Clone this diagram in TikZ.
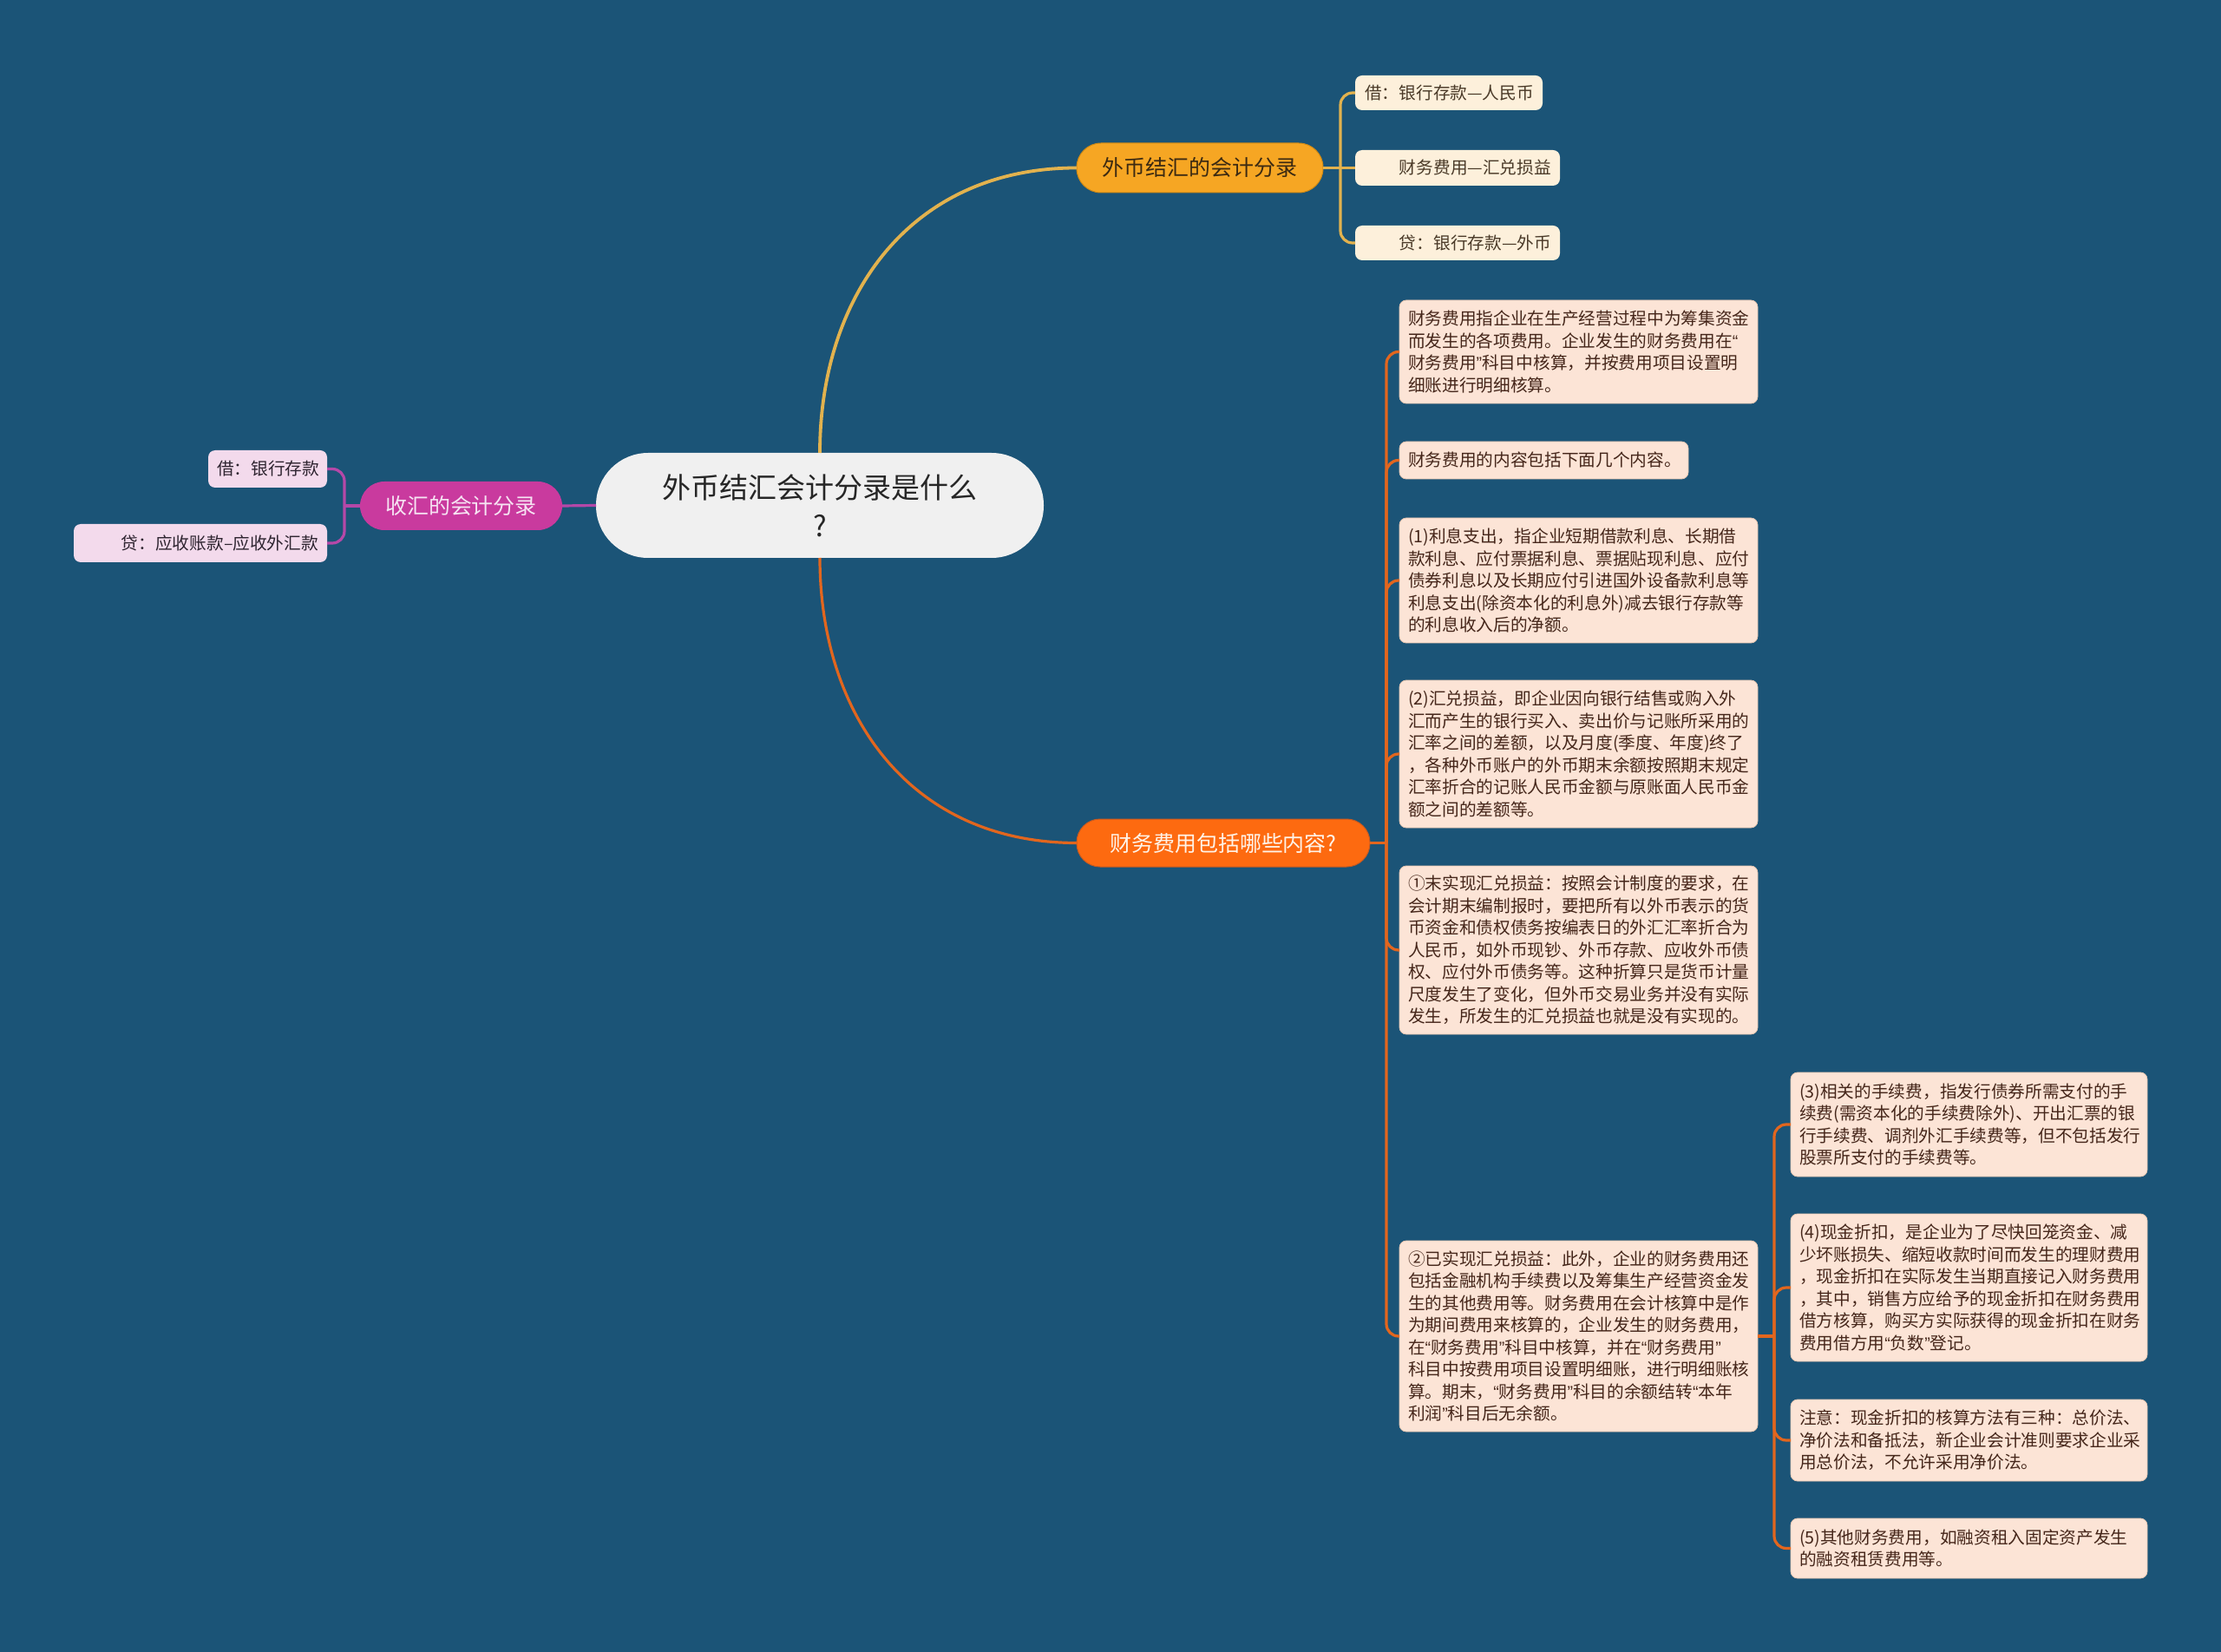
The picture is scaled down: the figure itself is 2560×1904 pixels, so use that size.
\documentclass[tikz,border=0pt]{standalone}
\usepackage{fontspec}
\newfontfamily\cjk{Noto Sans CJK SC}
\newfontfamily\qfont{Liberation Sans}
\newcommand{\qo}{{\qfont “}}
\newcommand{\qc}{{\qfont ”}}
\definecolor{bgc}{HTML}{1B5477}
\definecolor{rootfill}{HTML}{F0F0F0}
\definecolor{roottext}{HTML}{262626}
\definecolor{yfill}{HTML}{F6A623}
\definecolor{ydraw}{HTML}{D08A15}
\definecolor{ytext}{HTML}{3C2A12}
\definecolor{yconn}{HTML}{E2B24E}
\definecolor{cfill}{HTML}{FDF0DB}
\definecolor{ctext}{HTML}{4A3A28}
\definecolor{ofill}{HTML}{FD6A10}
\definecolor{odraw}{HTML}{C85A20}
\definecolor{otext}{HTML}{FFF3E8}
\definecolor{oconn}{HTML}{E2661E}
\definecolor{pfill}{HTML}{FCE4D6}
\definecolor{pdraw}{HTML}{E6C6B2}
\definecolor{ptext}{HTML}{45261A}
\definecolor{mfill}{HTML}{C93A9E}
\definecolor{mtext}{HTML}{F6E3F2}
\definecolor{mconn}{HTML}{B548A8}
\definecolor{kfill}{HTML}{F3DAEC}
\definecolor{ktext}{HTML}{2E2430}
\begin{document}
\begin{tikzpicture}[x=0.1mm,y=-0.1mm,
  every node/.style={inner sep=0pt, outer sep=0pt},
  conn/.style={line width=0.32mm, rounded corners=1.4mm},
  rootbox/.style={fill=rootfill, rounded corners=6mm, text=roottext, align=center,
    font=\cjk\fontsize{9.4}{12.5}\selectfont, minimum width=51.6mm, minimum height=12.1mm},
  mainY/.style={fill=yfill, draw=ydraw, line width=0.1mm, rounded corners=2.8mm, text=ytext,
    font=\cjk\fontsize{7.1}{9}\selectfont, minimum width=28.4mm, minimum height=5.7mm},
  mainO/.style={fill=ofill, draw=odraw, line width=0.1mm, rounded corners=2.7mm, text=otext,
    font=\cjk\fontsize{7.1}{9}\selectfont, minimum width=33.8mm, minimum height=5.5mm},
  mainM/.style={fill=mfill, rounded corners=2.8mm, text=mtext,
    font=\cjk\fontsize{7.1}{9}\selectfont, minimum width=23.3mm, minimum height=5.6mm},
  leafC/.style={fill=cfill, rounded corners=0.8mm, text=ctext, align=right, inner xsep=1mm,
    font=\cjk\fontsize{5.6}{7.26}\selectfont},
  leafK/.style={fill=kfill, rounded corners=0.8mm, text=ktext, align=right, inner xsep=1mm,
    font=\cjk\fontsize{5.6}{7.26}\selectfont},
  pbox/.style={fill=pfill, draw=pdraw, line width=0.08mm, rounded corners=0.8mm, text=ptext,
    align=left, inner xsep=1mm, font=\cjk\fontsize{5.6}{7.26}\selectfont},
]
\fill[bgc] (0,0) rectangle (2560,1904);
\useasboundingbox (0,0) rectangle (2560,1904);

\coordinate (tY) at (1545,193.5);
\coordinate (tO) at (1598,971.5);
\coordinate (tR) at (2045,1540);
\coordinate (tM) at (397,583);

% nodes
\node[rootbox] (root) at (945,582.5) {外币结汇会计分录是什么\\?};

\node[mainY] (fx) at (1383,193.5) {外币结汇的会计分录};
\node[leafC, text width=19.6mm, minimum height=4mm] (y1) at (1670,107) {借：银行存款—人民币};
\node[leafC, text width=21.6mm, minimum height=4.1mm] (y2) at (1680,193.5) {财务费用—汇兑损益};
\node[leafC, text width=21.6mm, minimum height=4mm] (y3) at (1680,280) {贷：银行存款—外币};

\node[mainO] (cw) at (1410,971.5) {财务费用包括哪些内容?};

\node[pbox, text width=39.3mm, minimum height=11.9mm] (b1) at (1819.5,405.5)
{财务费用指企业在生产经营过程中为筹集资金\\而发生的各项费用。企业发生的财务费用在\qo\\财务费用\qc 科目中核算，并按费用项目设置明\\细账进行明细核算。};
\node[pbox, text width=31.3mm, minimum height=4.3mm] (b2) at (1779.5,530.5)
{财务费用的内容包括下面几个内容。};
\node[pbox, text width=39.3mm, minimum height=14.4mm] (b3) at (1819.5,669)
{(1)利息支出，指企业短期借款利息、长期借\\款利息、应付票据利息、票据贴现利息、应付\\债券利息以及长期应付引进国外设备款利息等\\利息支出(除资本化的利息外)减去银行存款等\\的利息收入后的净额。};
\node[pbox, text width=39.3mm, minimum height=17mm] (b4) at (1819.5,869)
{(2)汇兑损益，即企业因向银行结售或购入外\\汇而产生的银行买入、卖出价与记账所采用的\\汇率之间的差额，以及月度(季度、年度)终了\\，各种外币账户的外币期末余额按照期末规定\\汇率折合的记账人民币金额与原账面人民币金\\额之间的差额等。};
\node[pbox, text width=39.3mm, minimum height=19.4mm] (b5) at (1819.5,1095)
{①末实现汇兑损益：按照会计制度的要求，在\\会计期末编制报时，要把所有以外币表示的货\\币资金和债权债务按编表日的外汇汇率折合为\\人民币，如外币现钞、外币存款、应收外币债\\权、应付外币债务等。这种折算只是货币计量\\尺度发生了变化，但外币交易业务并没有实际\\发生，所发生的汇兑损益也就是没有实现的。};
\node[pbox, text width=39.3mm, minimum height=22mm] (b6) at (1819.5,1540)
{②已实现汇兑损益：此外，企业的财务费用还\\包括金融机构手续费以及筹集生产经营资金发\\生的其他费用等。财务费用在会计核算中是作\\为期间费用来核算的，企业发生的财务费用，\\在\qo 财务费用\qc 科目中核算，并在\qo 财务费用\qc\\科目中按费用项目设置明细账，进行明细账核\\算。期末，\qo 财务费用\qc 科目的余额结转\qo 本年\\利润\qc 科目后无余额。};

\node[pbox, text width=39.1mm, minimum height=12mm] (ba) at (2269.5,1296)
{(3)相关的手续费，指发行债券所需支付的手\\续费(需资本化的手续费除外)、开出汇票的银\\行手续费、调剂外汇手续费等，但不包括发行\\股票所支付的手续费等。};
\node[pbox, text width=39.1mm, minimum height=17mm] (bb) at (2269.5,1484)
{(4)现金折扣，是企业为了尽快回笼资金、减\\少坏账损失、缩短收款时间而发生的理财费用\\，现金折扣在实际发生当期直接记入财务费用\\，其中，销售方应给予的现金折扣在财务费用\\借方核算，购买方实际获得的现金折扣在财务\\费用借方用\qo 负数\qc 登记。};
\node[pbox, text width=39.1mm, minimum height=9.4mm] (bc) at (2269.5,1660)
{注意：现金折扣的核算方法有三种：总价法、\\净价法和备抵法，新企业会计准则要求企业采\\用总价法，不允许采用净价法。};
\node[pbox, text width=39.1mm, minimum height=6.9mm] (bd) at (2269.5,1784.5)
{(5)其他财务费用，如融资租入固定资产发生\\的融资租赁费用等。};

\node[mainM] (sh) at (531.5,583) {收汇的会计分录};
\node[leafK, text width=11.7mm, minimum height=4.3mm] (k1) at (308.5,540.5) {借：银行存款};
\node[leafK, text width=27.2mm, minimum height=4.4mm] (k2) at (231,626) {贷：应收账款–应收外汇款};

% connectors
\draw[conn, draw=yconn, line width=0.38mm] (root.north) .. controls (945,340) and (1050,193.5) .. (fx.west);
\draw[conn, draw=oconn] (root.south) .. controls (945,825) and (1050,971.5) .. (cw.west);
\draw[conn, draw=mconn] (root.west) -- (sh.east);

\draw[conn, draw=yconn] (fx.east) -- (tY);
\draw[conn, draw=yconn] (tY) -- (1545,107) -- (y1.west);
\draw[conn, draw=yconn] (tY) -- (y2.west);
\draw[conn, draw=yconn] (tY) -- (1545,280) -- (y3.west);

\draw[conn, draw=oconn] (cw.east) -- (tO);
\draw[conn, draw=oconn] (tO) -- (1598,405.5) -- (b1.west);
\draw[conn, draw=oconn] (tO) -- (1598,530.5) -- (b2.west);
\draw[conn, draw=oconn] (tO) -- (1598,669) -- (b3.west);
\draw[conn, draw=oconn] (tO) -- (1598,869) -- (b4.west);
\draw[conn, draw=oconn] (tO) -- (1598,1095) -- (b5.west);
\draw[conn, draw=oconn] (tO) -- (1598,1540) -- (b6.west);

\draw[conn, draw=oconn] (b6.east) -- (tR);
\draw[conn, draw=oconn] (tR) -- (2045,1296) -- (ba.west);
\draw[conn, draw=oconn] (tR) -- (2045,1484) -- (bb.west);
\draw[conn, draw=oconn] (tR) -- (2045,1660) -- (bc.west);
\draw[conn, draw=oconn] (tR) -- (2045,1784.5) -- (bd.west);

\draw[conn, draw=mconn] (sh.west) -- (tM);
\draw[conn, draw=mconn] (tM) -- (397,540.5) -- (k1.east);
\draw[conn, draw=mconn] (tM) -- (397,626) -- (k2.east);
\end{tikzpicture}
\end{document}
